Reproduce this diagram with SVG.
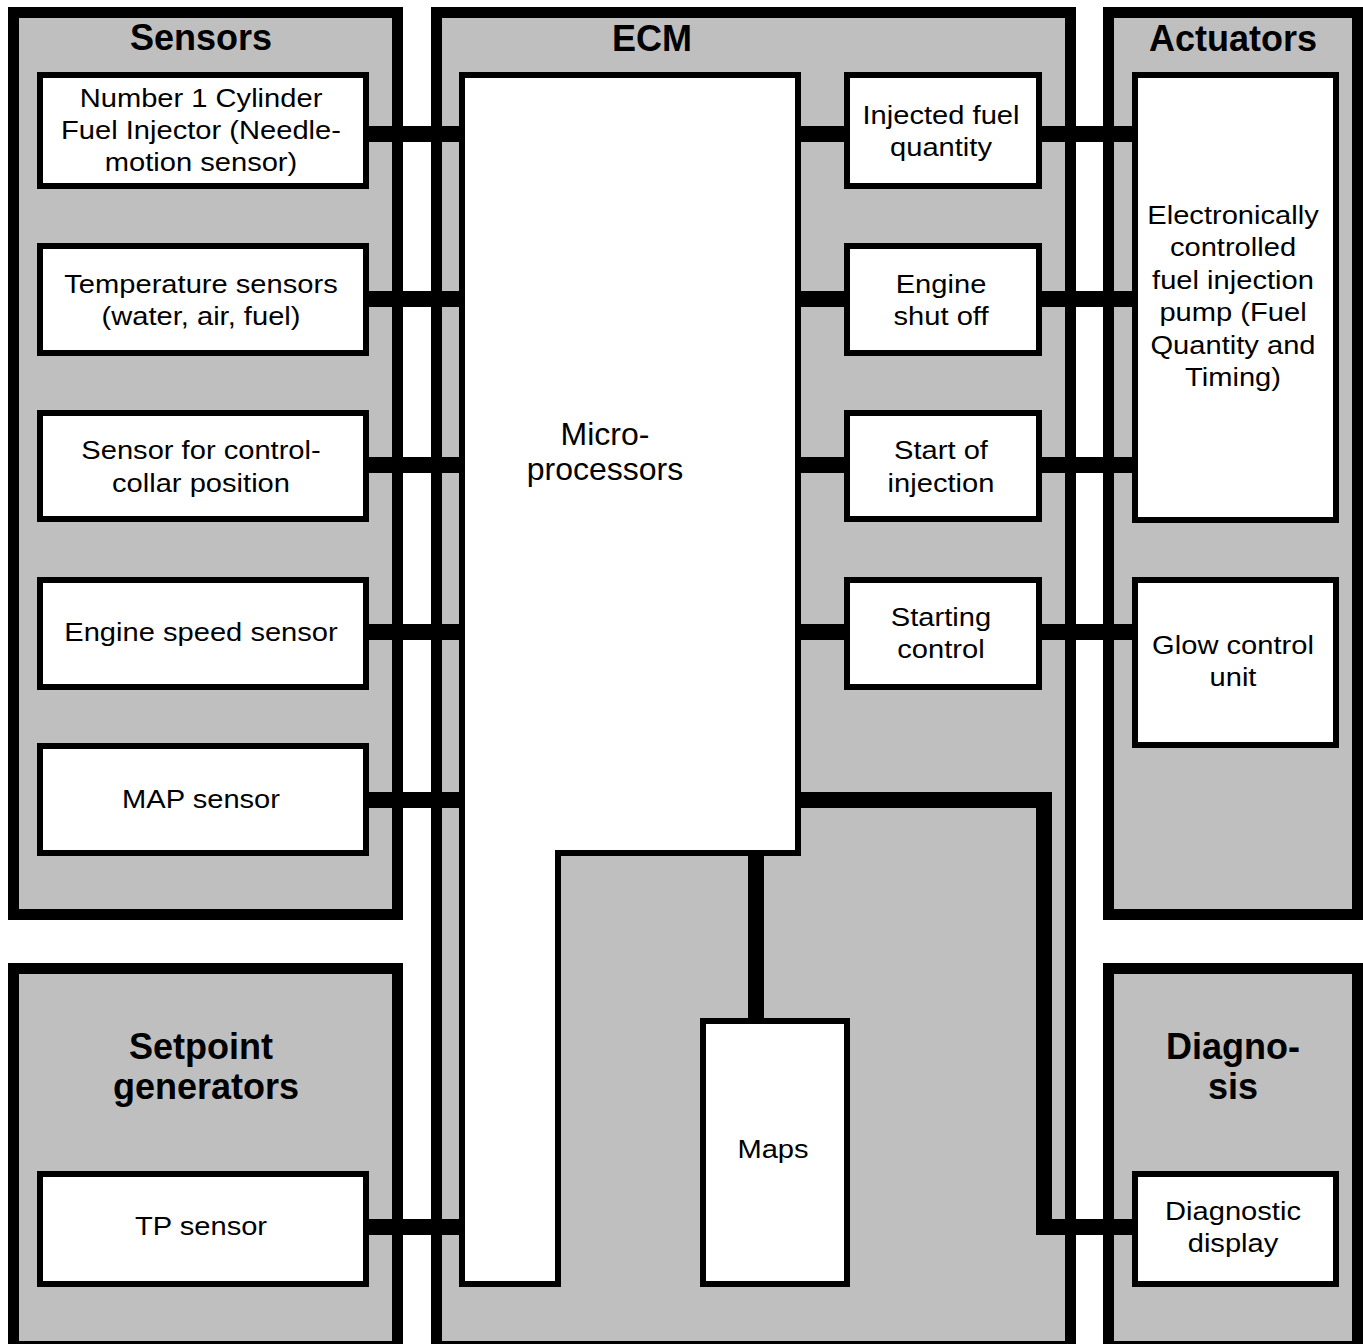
<svg xmlns="http://www.w3.org/2000/svg" width="1363" height="1344" viewBox="0 0 1363 1344">
<style>
.panel{fill:#bfbfbf;stroke:#000;stroke-width:11}
.box{fill:#fff;stroke:#000;stroke-width:6}
.con{fill:none;stroke:#000;stroke-width:16;stroke-linejoin:miter}
.t{font-family:"Liberation Sans",Arial,sans-serif;font-size:26px;fill:#000;text-anchor:middle}
.h{font-family:"Liberation Sans",Arial,sans-serif;font-size:36px;font-weight:bold;fill:#000;text-anchor:middle}
.m{font-family:"Liberation Sans",Arial,sans-serif;font-size:32px;fill:#000;text-anchor:middle}
</style>
<rect width="1363" height="1344" fill="#fff"/>
<g id="sensors-panel">
<rect class="panel" x="13.5" y="12.5" width="384" height="902"/>
<text class="h" x="201" y="50">Sensors</text>
</g>
<g id="ecm-panel">
<rect class="panel" x="436.5" y="12.5" width="634" height="1334"/>
<text class="h" x="652" y="51">ECM</text>
</g>
<g id="actuators-panel">
<rect class="panel" x="1108.5" y="12.5" width="249" height="902"/>
<text class="h" x="1233" y="51">Actuators</text>
</g>
<g id="setpoint-panel">
<rect class="panel" x="13.5" y="968.5" width="384" height="378"/>
<text class="h"><tspan x="201" y="1059">Setpoint</tspan><tspan x="206" y="1099">generators</tspan></text>
</g>
<g id="diagnosis-panel">
<rect class="panel" x="1108.5" y="968.5" width="249" height="378"/>
<text class="h"><tspan x="1233" y="1059">Diagno-</tspan><tspan x="1233" y="1099">sis</tspan></text>
</g>
<g id="connectors">
<line class="con" x1="366" y1="134" x2="463" y2="134"/>
<line class="con" x1="366" y1="299" x2="463" y2="299"/>
<line class="con" x1="366" y1="465" x2="463" y2="465"/>
<line class="con" x1="366" y1="632" x2="463" y2="632"/>
<line class="con" x1="366" y1="800" x2="463" y2="800"/>
<line class="con" x1="366" y1="1227" x2="463" y2="1227"/>
<line class="con" x1="797" y1="134" x2="848" y2="134"/>
<line class="con" x1="797" y1="299" x2="848" y2="299"/>
<line class="con" x1="797" y1="465" x2="848" y2="465"/>
<line class="con" x1="797" y1="632" x2="848" y2="632"/>
<line class="con" x1="1038" y1="134" x2="1136" y2="134"/>
<line class="con" x1="1038" y1="299" x2="1136" y2="299"/>
<line class="con" x1="1038" y1="465" x2="1136" y2="465"/>
<line class="con" x1="1038" y1="632" x2="1136" y2="632"/>
<line class="con" x1="756" y1="852" x2="756" y2="1022"/>
<path class="con" d="M797,800 H1044 V1227 H1136"/>
</g>
<g id="microprocessors">
<polygon class="box" points="462,75 798,75 798,853 558,853 558,1284 462,1284"/>
<text class="m"><tspan x="605" y="445">Micro-</tspan><tspan x="605" y="480">processors</tspan></text>
</g>
<g id="maps">
<rect class="box" x="703" y="1021" width="144" height="263"/>
<text class="t" transform="translate(773,0) scale(1.12,1)"><tspan x="0" y="1158">Maps</tspan></text>
</g>
<g id="needle-motion-sensor">
<rect class="box" x="40" y="75" width="326" height="111"/>
<text class="t" transform="translate(201,0) scale(1.12,1)"><tspan x="0" y="107">Number 1 Cylinder</tspan><tspan x="0" y="139">Fuel Injector (Needle-</tspan><tspan x="0" y="171">motion sensor)</tspan></text>
</g>
<g id="temperature-sensors">
<rect class="box" x="40" y="246" width="326" height="107"/>
<text class="t" transform="translate(201,0) scale(1.12,1)"><tspan x="0" y="293">Temperature sensors</tspan><tspan x="0" y="325">(water, air, fuel)</tspan></text>
</g>
<g id="control-collar-sensor">
<rect class="box" x="40" y="413" width="326" height="106"/>
<text class="t" transform="translate(201,0) scale(1.12,1)"><tspan x="0" y="459">Sensor for control-</tspan><tspan x="0" y="492">collar position</tspan></text>
</g>
<g id="engine-speed-sensor">
<rect class="box" x="40" y="580" width="326" height="107"/>
<text class="t" transform="translate(201,0) scale(1.12,1)"><tspan x="0" y="641">Engine speed sensor</tspan></text>
</g>
<g id="map-sensor">
<rect class="box" x="40" y="746" width="326" height="107"/>
<text class="t" transform="translate(201,0) scale(1.12,1)"><tspan x="0" y="808">MAP sensor</tspan></text>
</g>
<g id="tp-sensor">
<rect class="box" x="40" y="1174" width="326" height="110"/>
<text class="t" transform="translate(201,0) scale(1.12,1)"><tspan x="0" y="1235">TP sensor</tspan></text>
</g>
<g id="injected-fuel-quantity">
<rect class="box" x="847" y="75" width="192" height="111"/>
<text class="t" transform="translate(941,0) scale(1.12,1)"><tspan x="0" y="124">Injected fuel</tspan><tspan x="0" y="156">quantity</tspan></text>
</g>
<g id="engine-shut-off">
<rect class="box" x="847" y="246" width="192" height="107"/>
<text class="t" transform="translate(941,0) scale(1.12,1)"><tspan x="0" y="293">Engine</tspan><tspan x="0" y="325">shut off</tspan></text>
</g>
<g id="start-of-injection">
<rect class="box" x="847" y="413" width="192" height="106"/>
<text class="t" transform="translate(941,0) scale(1.12,1)"><tspan x="0" y="459">Start of</tspan><tspan x="0" y="492">injection</tspan></text>
</g>
<g id="starting-control">
<rect class="box" x="847" y="580" width="192" height="107"/>
<text class="t" transform="translate(941,0) scale(1.12,1)"><tspan x="0" y="626">Starting</tspan><tspan x="0" y="658">control</tspan></text>
</g>
<g id="injection-pump">
<rect class="box" x="1135" y="75" width="201" height="445"/>
<text class="t" transform="translate(1233,0) scale(1.12,1)"><tspan x="0" y="224">Electronically</tspan><tspan x="0" y="256">controlled</tspan><tspan x="0" y="289">fuel injection</tspan><tspan x="0" y="321">pump (Fuel</tspan><tspan x="0" y="354">Quantity and</tspan><tspan x="0" y="386">Timing)</tspan></text>
</g>
<g id="glow-control-unit">
<rect class="box" x="1135" y="580" width="201" height="165"/>
<text class="t" transform="translate(1233,0) scale(1.12,1)"><tspan x="0" y="654">Glow control</tspan><tspan x="0" y="686">unit</tspan></text>
</g>
<g id="diagnostic-display">
<rect class="box" x="1135" y="1174" width="201" height="110"/>
<text class="t" transform="translate(1233,0) scale(1.12,1)"><tspan x="0" y="1220">Diagnostic</tspan><tspan x="0" y="1252">display</tspan></text>
</g>
</svg>
